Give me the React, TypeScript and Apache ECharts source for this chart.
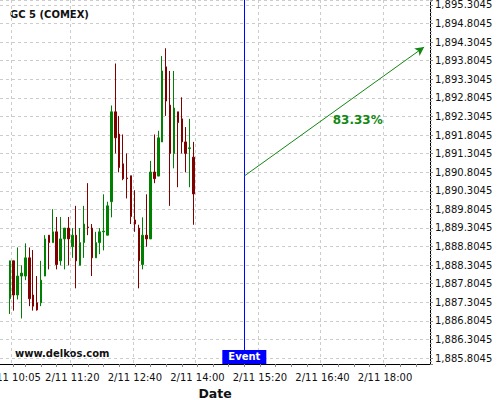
import React, { useEffect, useRef } from 'react';
import * as echarts from 'echarts';

const FONT = 'DejaVu Sans';
// price labels end in .3045 / .8045: plot values shifted by this offset so ticks fall on multiples of 0.5
const PRICE_OFFSET = 0.3045;

// 5-minute slots of the time axis
const firstSlotMinutes = 9 * 60 + 50;
const slotCount = 110;
const categories: string[] = Array.from({ length: slotCount }, (_, i) => {
  const t = firstSlotMinutes + 5 * i;
  return `2/11 ${Math.floor(t / 60)}:${String(t % 60).padStart(2, '0')}`;
});

const firstCandleTime = '2/11 10:00';
const labelledTimes = ['2/11 10:05', '2/11 11:20', '2/11 12:40', '2/11 14:00', '2/11 15:20', '2/11 16:40', '2/11 18:00'];

const opens = [
  1887.40, 1888.42, 1887.50, 1888.01, 1888.01, 1888.50, 1887.50, 1887.29, 1887.29, 1888.01,
  1889.11, 1888.91, 1889.20, 1888.42, 1889.01, 1889.30, 1888.80, 1889.11, 1888.30, 1888.91,
  1889.33, 1889.30, 1888.50, 1888.91, 1889.20, 1889.11, 1890.01, 1892.43, 1891.83, 1891.03,
  1890.65, 1890.71, 1889.52, 1889.30, 1888.32, 1889.11, 1889.01, 1890.81, 1890.70, 1891.62,
  1893.64, 1892.61, 1891.31, 1892.43, 1892.24, 1891.62, 1891.44, 1891.21,
];
const closes = [
  1888.42, 1887.50, 1888.01, 1888.09, 1888.50, 1887.40, 1887.20, 1887.10, 1887.90, 1889.01,
  1888.91, 1889.20, 1888.32, 1889.01, 1889.30, 1889.01, 1889.11, 1888.42, 1888.91, 1889.41,
  1889.31, 1888.50, 1888.91, 1889.20, 1889.22, 1889.90, 1892.43, 1891.73, 1890.93, 1890.63,
  1890.63, 1889.61, 1889.41, 1888.42, 1889.11, 1889.01, 1890.81, 1890.63, 1891.73, 1893.53,
  1892.72, 1891.31, 1892.53, 1892.14, 1891.62, 1891.31, 1891.46, 1890.22,
];
const lows = [
  1886.99, 1887.08, 1887.38, 1886.87, 1887.90, 1887.20, 1887.08, 1887.08, 1887.20, 1888.01,
  1888.19, 1888.91, 1888.19, 1888.30, 1888.19, 1888.30, 1888.50, 1887.68, 1888.30, 1888.50,
  1889.11, 1888.01, 1888.50, 1888.60, 1888.70, 1889.11, 1889.59, 1891.31, 1890.80, 1890.59,
  1890.10, 1889.41, 1889.20, 1887.68, 1888.19, 1888.80, 1889.01, 1890.51, 1890.70, 1891.62,
  1892.32, 1889.90, 1890.91, 1890.40, 1891.31, 1890.80, 1890.40, 1889.39,
];
const highs = [
  1888.42, 1888.42, 1888.78, 1888.30, 1888.89, 1888.78, 1888.71, 1888.01, 1888.42, 1889.11,
  1889.11, 1889.81, 1889.60, 1889.60, 1889.30, 1889.60, 1889.30, 1889.90, 1889.30, 1889.90,
  1890.51, 1889.41, 1889.20, 1889.30, 1890.21, 1890.01, 1892.60, 1893.73, 1892.32, 1891.82,
  1891.31, 1890.71, 1890.32, 1889.39, 1889.59, 1890.21, 1891.11, 1891.82, 1891.92, 1893.93,
  1894.14, 1893.53, 1893.53, 1892.43, 1892.82, 1892.02, 1892.24, 1891.62,
];

const yMinPrice = 1885.6435;
const yMaxPrice = 1895.439;

const eventTime = '2/11 15:00';
const eventLabelPrice = 1885.832;
const arrowStartPrice = 1890.703;
const targetTime = '2/11 18:50';
const targetPrice = 1894.174;
const pctLabelTime = '2/11 17:25';
const pctLabelPrice = 1892.21;
const pctText = '83.33%';

const GREEN = '#118811';

function fmtPrice(v: number): string {
  const p = v + PRICE_OFFSET;
  const s = p.toFixed(4);
  const [intPart, dec] = s.split('.');
  return intPart.replace(/\B(?=(\d{3})+(?!\d))/g, ',') + '.' + dec;
}

export default function App() {
  const ref = useRef<HTMLDivElement>(null);
  useEffect(() => {
    if (!ref.current) return;
    const chart = echarts.init(ref.current, null, { renderer: 'svg' });
    const startIdx = categories.indexOf(firstCandleTime);
    const candleData: any[] = [];
    for (let i = 0; i < startIdx; i++) candleData.push('-');
    opens.forEach((o, i) => {
      candleData.push([
        o - PRICE_OFFSET,
        closes[i] - PRICE_OFFSET,
        lows[i] - PRICE_OFFSET,
        highs[i] - PRICE_OFFSET,
      ]);
    });
    const labelIdx = labelledTimes.map((t) => categories.indexOf(t));
    const labelEvery = (index: number) => labelIdx.indexOf(index) >= 0;
    const tickEvery = (index: number) =>
      index === labelIdx[0] || (index > labelIdx[0] + 1 && (index - labelIdx[1]) % 4 === 0);
    chart.setOption({
      animation: false,
      textStyle: { fontFamily: FONT },
      grid: {
        left: 0,
        right: 70,
        top: 0,
        bottom: 36,
        containLabel: false,
        outerBoundsMode: 'none',
      },
      xAxis: {
        type: 'category',
        data: categories,
        boundaryGap: true,
        name: 'Date',
        nameLocation: 'middle',
        nameGap: 19,
        nameTextStyle: { fontFamily: FONT, fontWeight: 'bold', fontSize: 12.5, color: '#111' },
        axisLine: { show: true, lineStyle: { color: '#000', width: 1 } },
        axisTick: {
          show: true,
          alignWithLabel: true,
          length: 3,
          interval: tickEvery,
          lineStyle: { color: '#888' },
        },
        axisLabel: {
          interval: labelEvery,
          fontFamily: FONT,
          fontSize: 10,
          color: '#111',
          margin: 8,
          hideOverlap: false,
        },
        splitLine: {
          show: true,
          interval: labelEvery,
          lineStyle: { color: '#cccccc', type: [3, 3], width: 1 },
        },
      },
      yAxis: {
        type: 'value',
        position: 'right',
        min: yMinPrice - PRICE_OFFSET,
        max: yMaxPrice - PRICE_OFFSET,
        splitNumber: 20,
        minInterval: 0.5,
        maxInterval: 0.5,
        scale: true,
        axisLine: { show: true, lineStyle: { color: '#000', width: 1 } },
        axisTick: { show: true, length: 3, lineStyle: { color: '#888' } },
        minorTick: { show: true, splitNumber: 5, length: 2, lineStyle: { color: '#aaa' } },
        axisLabel: {
          fontFamily: FONT,
          fontSize: 10,
          color: '#111',
          margin: 5,
          showMinLabel: false,
          showMaxLabel: false,
          formatter: (v: number) => fmtPrice(v),
        },
        splitLine: {
          show: true,
          lineStyle: { color: '#cccccc', type: [3, 3], width: 1 },
        },
      },
      graphic: [
        {
          type: 'text',
          left: 10,
          top: 9,
          style: { text: 'GC 5 (COMEX)', font: `bold 10px "${FONT}"`, fill: '#111' },
        },
        {
          type: 'text',
          left: 15,
          top: 348,
          style: { text: 'www.delkos.com', font: `bold 10px "${FONT}"`, fill: '#111' },
        },
      ],
      series: [
        {
          type: 'candlestick',
          data: candleData,
          barWidth: 2,
          itemStyle: {
            color: '#008000',
            color0: '#800000',
            borderColor: '#008000',
            borderColor0: '#800000',
            borderWidth: 1,
          },
          markLine: {
            silent: true,
            symbol: ['none', 'none'],
            label: { show: false },
            lineStyle: { color: '#0000ff', width: 1, type: 'solid' },
            data: [{ xAxis: eventTime }],
          },
        },
        {
          type: 'line',
          data: [],
          markLine: {
            silent: true,
            symbol: ['none', 'arrow'],
            symbolSize: [7, 9],
            label: { show: false },
            lineStyle: { color: GREEN, width: 1, type: 'solid' },
            data: [
              [
                { coord: [eventTime, arrowStartPrice - PRICE_OFFSET] },
                { coord: [targetTime, targetPrice - PRICE_OFFSET] },
              ],
            ],
          },
          markPoint: {
            silent: true,
            data: [
              {
                coord: [eventTime, eventLabelPrice - PRICE_OFFSET],
                symbol: 'rect',
                symbolSize: [44, 14],
                itemStyle: { color: '#0000ff' },
                label: {
                  show: true,
                  position: 'inside',
                  formatter: 'Event',
                  color: '#ffffff',
                  fontFamily: FONT,
                  fontWeight: 'bold',
                  fontSize: 10,
                },
              },
              {
                coord: [pctLabelTime, pctLabelPrice - PRICE_OFFSET],
                symbol: 'circle',
                symbolSize: 0,
                itemStyle: { color: 'transparent' },
                label: {
                  show: true,
                  position: 'inside',
                  formatter: pctText,
                  color: GREEN,
                  fontFamily: FONT,
                  fontWeight: 'bold',
                  fontSize: 12,
                },
              },
            ],
          },
        },
      ],
    });
    return () => chart.dispose();
  }, []);
  return (
    <div
      ref={ref}
      style={{ position: 'fixed', left: 0, top: 0, width: 500, height: 400, background: '#fff' }}
    />
  );
}
